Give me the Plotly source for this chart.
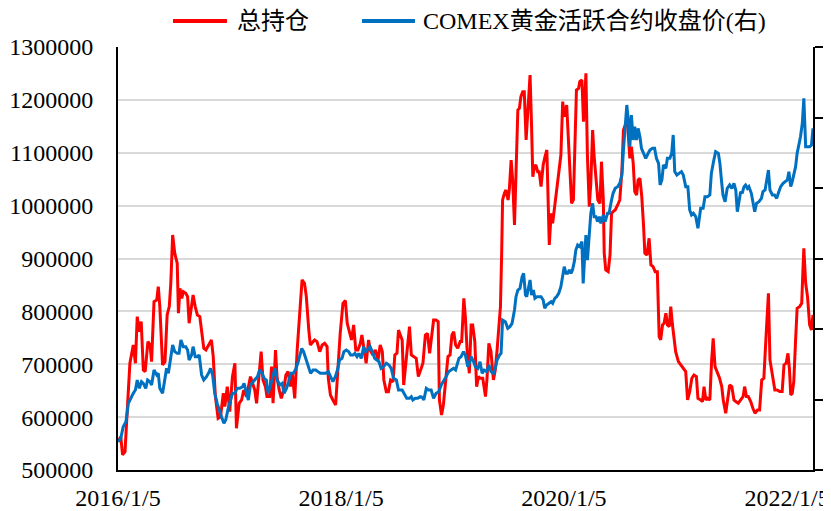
import pandas as pd
import plotly.graph_objects as go

start_date = "2016-01-05"

# 总持仓: day offsets from start_date and values
oi_day = [
    0, 9, 15, 23, 31, 39, 50, 57, 63, 70,
    76, 83, 89, 98, 105, 110, 118, 127, 132, 137,
    146, 154, 161, 168, 173, 179, 186, 194, 198, 203,
    209, 214, 222, 228, 233, 241, 246, 253, 260, 268,
    274, 281, 288, 296, 306, 312, 319, 328, 336, 345,
    350, 358, 366, 375, 383, 388, 397, 405, 412, 421,
    426, 434, 441, 448, 454, 461, 469, 475, 483, 488,
    497, 503, 508, 516, 521, 528, 535, 543, 550, 557,
    565, 571, 579, 587, 595, 603, 611, 617, 625, 630,
    644, 652, 661, 669, 677, 685, 689, 696, 704, 713,
    721, 728, 737, 745, 751, 759, 765, 772, 779, 786,
    794, 799, 806, 813, 821, 826, 835, 843, 852, 859,
    866, 871, 879, 886, 893, 901, 907, 914, 919, 931,
    936, 942, 950, 955, 961, 968, 977, 984, 990, 999,
    1007, 1014, 1021, 1027, 1034, 1042, 1049, 1053, 1060, 1066,
    1073, 1081, 1088, 1094, 1100, 1106, 1113, 1121, 1126, 1133,
    1138, 1144, 1151, 1157, 1162, 1169, 1175, 1181, 1187, 1195,
    1204, 1209, 1215, 1222, 1230, 1236, 1242, 1247, 1253, 1257,
    1260, 1266, 1271, 1278, 1282, 1288, 1293, 1299, 1304, 1310,
    1315, 1320, 1326, 1331, 1337, 1343, 1350, 1355, 1359, 1364,
    1369, 1375, 1380, 1386, 1393, 1399, 1405, 1413, 1419, 1424,
    1429, 1437, 1444, 1451, 1457, 1462, 1470, 1476, 1481, 1486,
    1492, 1497, 1502, 1509, 1513, 1520, 1525, 1529, 1533, 1538,
    1544, 1549, 1555, 1560, 1566, 1572, 1579, 1584, 1590, 1593,
    1598, 1606, 1612, 1617, 1622, 1629, 1637, 1644, 1651, 1656,
    1664, 1670, 1677, 1682, 1688, 1693, 1699, 1704, 1710, 1716,
    1722, 1726, 1733, 1740, 1746, 1753, 1760, 1767, 1773, 1778,
    1784, 1789, 1795, 1800, 1806, 1811, 1816, 1822, 1827, 1836,
    1844, 1851, 1860, 1866, 1873, 1880, 1887, 1895, 1900, 1909,
    1915, 1920, 1926, 1931, 1939, 1945, 1950, 1956, 1964, 1971,
    1978, 1983, 1991, 1996, 2004, 2011, 2018, 2024, 2032, 2040,
    2048, 2053, 2059, 2065, 2073, 2080, 2087, 2095, 2102, 2109,
    2116, 2124, 2131, 2136, 2144, 2152, 2160, 2168, 2176, 2182,
    2189, 2195, 2200, 2204, 2209, 2214, 2220, 2225, 2233, 2240,
    2244, 2247, 2253, 2259, 2266, 2272, 2277,
]
oi_value = [
    553700, 563100, 528500, 534800, 619900, 701800, 736500, 701800, 790100, 761700,
    780600, 689200, 686100, 742800, 736500, 705000, 818400, 821600, 846800, 809000,
    698600, 705000, 793200, 809000, 853100, 944500, 909800, 890900, 796400, 843600,
    824700, 837300, 834200, 827900, 777500, 815300, 831000, 809000, 793200, 790100,
    758500, 730200, 727000, 736500, 746000, 714400, 638800, 597800, 601000, 645100,
    619900, 657700, 610400, 676600, 701800, 578900, 626200, 632500, 651400, 638800,
    654500, 676600, 664000, 651400, 626200, 676600, 723900, 670300, 657700, 638800,
    638800, 695500, 626200, 727000, 676600, 651400, 635600, 651400, 679700, 686100,
    657700, 682900, 635600, 727000, 790100, 859400, 853100, 827900, 764800, 736500,
    746000, 742800, 723900, 736500, 739600, 733300, 673400, 641900, 632500, 623000,
    695500, 758500, 815300, 820300, 777500, 758500, 746000, 774300, 727000, 727000,
    739600, 755400, 730200, 701800, 746000, 727000, 717600, 727000, 708100, 736500,
    723900, 670300, 648200, 648200, 670300, 667100, 717600, 720800, 764800, 746000,
    660800, 695500, 746000, 771100, 717600, 714400, 711300, 676600, 686100, 701800,
    755400, 758500, 720800, 746000, 783700, 783700, 780600, 632500, 604100, 623000,
    664000, 714400, 717600, 755400, 761700, 736500, 730200, 742800, 742800, 824700,
    790100, 723900, 682900, 774300, 774300, 742800, 657700, 676600, 673400, 673400,
    638800, 673400, 739600, 723900, 670300, 689200, 727000, 758500, 809000, 909800,
    1010700, 1023300, 1029600, 1010700, 1029600, 1086300, 1048500, 963400, 1086300, 1180800,
    1184000, 1206000, 1215500, 1215500, 1124100, 1193400, 1247000, 1149300, 1054800, 1073700,
    1076800, 1064200, 1064200, 1035900, 1076800, 1092600, 1105200, 925600, 985500, 966500,
    988600, 1029600, 1061100, 1095700, 1196600, 1168200, 1190300, 1117800, 1051600, 1004300,
    1010700, 1098900, 1218600, 1221800, 1234400, 1237600, 1158800, 1196600, 1250200, 1092600,
    998100, 1042200, 1143000, 1092600, 1042200, 1010700, 1004300, 1083100, 1010700, 909800,
    878300, 875100, 906700, 985500, 988600, 991800, 1001200, 1010700, 1067400, 1143000,
    1155600, 1149300, 1089400, 1111500, 1080000, 1026400, 1020100, 1048500, 1051600, 1017000,
    960200, 909800, 906700, 938200, 887800, 884600, 875100, 875100, 752200, 746000,
    774300, 777500, 796400, 774300, 771100, 809000, 777500, 746000, 723900, 705000,
    698700, 692400, 686100, 632500, 648200, 673400, 679700, 676600, 635600, 632500,
    629400, 657700, 632500, 635700, 632500, 708100, 749100, 695500, 682900, 673400,
    657700, 632500, 607300, 632500, 660900, 657700, 632500, 629400, 626200, 632500,
    638800, 657700, 638800, 638800, 629400, 616800, 607300, 613600, 613600, 670300,
    673400, 761700, 834200, 708100, 682900, 651400, 651400, 648300, 648300, 698700,
    701900, 720700, 689200, 642000, 645100, 667200, 746000, 805800, 809000, 815300,
    878300, 919300, 853100, 827900, 774300, 764900, 793200,
]

# COMEX黄金活跃合约收盘价(右): day offsets from start_date and values
gold_day = [
    0, 9, 17, 26, 34, 41, 50, 57, 63, 70,
    77, 83, 91, 97, 105, 110, 118, 127, 132, 137,
    146, 154, 159, 165, 172, 179, 186, 194, 200, 206,
    214, 222, 228, 233, 241, 246, 253, 260, 266, 274,
    281, 290, 299, 303, 310, 317, 325, 331, 339, 347,
    353, 361, 369, 375, 383, 390, 399, 408, 413, 421,
    427, 434, 443, 450, 457, 464, 472, 479, 486, 492,
    499, 506, 514, 521, 530, 538, 544, 552, 559, 566,
    574, 581, 589, 595, 602, 608, 617, 625, 631, 639,
    648, 655, 663, 672, 680, 689, 696, 704, 712, 719,
    726, 734, 740, 748, 756, 762, 770, 776, 783, 789,
    797, 805, 811, 819, 826, 833, 841, 848, 855, 862,
    870, 879, 888, 895, 903, 912, 919, 931, 939, 946,
    955, 961, 966, 974, 982, 990, 997, 1002, 1010, 1017,
    1026, 1034, 1042, 1051, 1059, 1066, 1075, 1083, 1091, 1099,
    1106, 1111, 1117, 1124, 1132, 1138, 1146, 1151, 1157, 1165,
    1171, 1179, 1186, 1193, 1200, 1208, 1215, 1222, 1230, 1236,
    1242, 1250, 1255, 1260, 1269, 1277, 1284, 1291, 1299, 1304,
    1310, 1317, 1324, 1329, 1335, 1339, 1344, 1350, 1355, 1361,
    1366, 1373, 1380, 1386, 1393, 1398, 1404, 1411, 1419, 1424,
    1431, 1437, 1444, 1451, 1457, 1462, 1468, 1473, 1479, 1484,
    1489, 1495, 1500, 1506, 1513, 1520, 1524, 1530, 1533, 1538,
    1544, 1549, 1555, 1560, 1566, 1571, 1577, 1582, 1590, 1596,
    1604, 1609, 1617, 1622, 1629, 1637, 1644, 1651, 1656, 1662,
    1667, 1673, 1677, 1682, 1688, 1693, 1699, 1704, 1710, 1715,
    1722, 1729, 1737, 1743, 1751, 1758, 1764, 1771, 1776, 1782,
    1787, 1795, 1800, 1808, 1814, 1819, 1824, 1831, 1838, 1846,
    1852, 1860, 1867, 1873, 1879, 1885, 1893, 1900, 1909, 1917,
    1923, 1931, 1939, 1944, 1951, 1958, 1967, 1972, 1977, 1982,
    1989, 1996, 2004, 2011, 2018, 2024, 2029, 2035, 2040, 2045,
    2051, 2056, 2062, 2067, 2075, 2080, 2086, 2092, 2100, 2108,
    2113, 2120, 2125, 2131, 2136, 2144, 2151, 2158, 2165, 2171,
    2179, 2185, 2193, 2198, 2204, 2209, 2214, 2220, 2225, 2231,
    2236, 2242, 2247, 2253, 2259, 2266, 2272, 2277,
]
gold_value = [
    1080.3, 1089.8, 1122.9, 1137.1, 1189.1, 1203.3, 1217.5, 1226.9, 1255.3, 1231.7,
    1250.6, 1245.8, 1231.7, 1255.3, 1250.6, 1241.1, 1283.7, 1269.5, 1274.2, 1231.7,
    1217.5, 1260.0, 1288.4, 1274.2, 1321.5, 1354.6, 1335.7, 1330.9, 1330.9, 1368.8,
    1349.9, 1349.9, 1340.4, 1312.0, 1326.2, 1349.9, 1321.5, 1321.5, 1326.2, 1269.5,
    1255.3, 1264.8, 1279.0, 1288.4, 1269.5, 1217.5, 1189.1, 1170.2, 1151.3, 1132.3,
    1141.8, 1174.9, 1203.3, 1217.5, 1217.5, 1231.7, 1231.7, 1236.4, 1245.8, 1217.5,
    1198.5, 1241.1, 1250.6, 1255.3, 1264.8, 1283.7, 1274.2, 1260.0, 1255.3, 1217.5,
    1236.4, 1260.0, 1288.4, 1255.3, 1241.1, 1245.8, 1217.5, 1231.7, 1250.6, 1274.2,
    1274.2, 1283.7, 1302.6, 1326.2, 1345.1, 1335.7, 1312.0, 1288.4, 1274.2, 1283.7,
    1283.7, 1279.0, 1274.2, 1274.2, 1274.2, 1279.0, 1264.8, 1250.6, 1264.8, 1283.7,
    1312.0, 1316.8, 1335.7, 1340.4, 1335.7, 1326.2, 1326.2, 1330.9, 1321.5, 1330.9,
    1316.8, 1349.9, 1335.7, 1345.1, 1349.9, 1335.7, 1316.8, 1312.0, 1307.3, 1288.4,
    1293.1, 1302.6, 1297.8, 1288.4, 1260.0, 1255.3, 1226.9, 1226.9, 1212.7, 1203.3,
    1203.3, 1208.0, 1198.5, 1203.3, 1203.3, 1208.0, 1206.1, 1198.5, 1231.7, 1226.9,
    1226.9, 1203.3, 1217.5, 1222.2, 1241.1, 1250.6, 1264.8, 1279.0, 1283.7, 1288.4,
    1283.7, 1297.8, 1316.8, 1321.5, 1335.7, 1326.2, 1293.1, 1302.6, 1321.5, 1307.3,
    1293.1, 1288.4, 1307.3, 1274.2, 1283.7, 1279.0, 1297.8, 1279.0, 1274.2, 1288.4,
    1312.0, 1326.2, 1330.9, 1425.5, 1420.8, 1401.8, 1406.6, 1416.1, 1453.9, 1491.7,
    1510.6, 1515.4, 1548.5, 1557.9, 1496.4, 1491.7, 1515.4, 1539.0, 1496.4, 1510.6,
    1487.0, 1491.7, 1491.7, 1491.7, 1482.3, 1458.6, 1468.1, 1472.8, 1477.5, 1472.8,
    1487.0, 1491.7, 1501.2, 1520.1, 1557.9, 1576.8, 1557.9, 1557.9, 1567.4, 1557.9,
    1567.4, 1591.0, 1624.1, 1638.3, 1633.6, 1647.8, 1529.5, 1652.5, 1666.7, 1595.7,
    1671.4, 1728.1, 1756.5, 1718.7, 1718.7, 1704.5, 1718.7, 1699.8, 1723.4, 1704.5,
    1728.1, 1728.1, 1766.0, 1784.9, 1799.1, 1803.8, 1813.2, 1836.9, 1907.8, 1988.2,
    2035.5, 1983.5, 1917.3, 2007.1, 1936.2, 1974.0, 1936.2, 1969.3, 1945.6, 1912.5,
    1898.4, 1884.2, 1898.4, 1907.8, 1912.5, 1912.5, 1884.2, 1870.0, 1808.5, 1822.7,
    1865.3, 1855.8, 1884.2, 1884.2, 1898.4, 1950.4, 1846.4, 1836.9, 1841.6, 1846.4,
    1836.9, 1803.8, 1803.8, 1737.6, 1723.4, 1728.1, 1718.7, 1685.6, 1742.3, 1742.3,
    1775.4, 1775.4, 1780.1, 1841.6, 1874.7, 1903.1, 1898.3, 1870.0, 1822.7, 1780.1,
    1761.2, 1799.0, 1808.5, 1799.0, 1813.2, 1794.3, 1732.8, 1765.9, 1789.6, 1784.9,
    1803.8, 1808.5, 1799.0, 1803.8, 1784.9, 1761.2, 1732.8, 1756.5, 1761.2, 1770.7,
    1789.6, 1794.3, 1822.7, 1851.1, 1794.3, 1780.1, 1780.1, 1770.7, 1789.6, 1803.8,
    1813.2, 1818.0, 1822.7, 1846.3, 1803.8, 1818.0, 1836.9, 1860.5, 1898.3, 1922.0,
    1945.6, 1983.5, 2054.4, 1917.3, 1917.3, 1917.3, 1922.0, 1969.3,
]

tick_dates = ["2016-01-05", "2018-01-05", "2020-01-05", "2022-01-05"]
tick_labels = ["2016/1/5", "2018/1/5", "2020/1/5", "2022/1/5"]
series_names = ["总持仓", "COMEX黄金活跃合约收盘价(右)"]

assert len(oi_day) == len(oi_value)
assert len(gold_day) == len(gold_value)

start = pd.Timestamp(start_date)
oi_dates = [start + pd.Timedelta(days=d) for d in oi_day]
gold_dates = [start + pd.Timedelta(days=d) for d in gold_day]
end = start + pd.Timedelta(days=max(max(oi_day), max(gold_day)))

RED = "#FF0000"
BLUE = "#0070C0"
FONT = "'Liberation Serif', 'Times New Roman', 'Noto Sans CJK SC', serif"

fig = go.Figure()
fig.add_trace(go.Scatter(x=oi_dates, y=oi_value, name=series_names[0], mode="lines",
                         line=dict(color=RED, width=3), yaxis="y"))
fig.add_trace(go.Scatter(x=gold_dates, y=gold_value, name=series_names[1], mode="lines",
                         line=dict(color=BLUE, width=3), yaxis="y2"))

# the page body has an 8px default margin, so the figure is sized to fit inside it
fig.update_layout(
    width=823, height=503,
    margin=dict(l=110, r=18, t=39, b=41, autoexpand=False),
    plot_bgcolor="white", paper_bgcolor="white",
    font=dict(family=FONT, size=24, color="black"),
    showlegend=False,
    xaxis=dict(
        type="date", range=[start, end],
        tickmode="array", tickvals=tick_dates, ticktext=tick_labels,
        showgrid=False, zeroline=False, showline=True, linecolor="black", linewidth=2,
        ticks="", ticklabelstandoff=5, automargin=False,
    ),
    yaxis=dict(
        range=[500000, 1300000], dtick=100000, tick0=500000, tickformat="d",
        showgrid=True, gridcolor="#D9D9D9", gridwidth=2, zeroline=False,
        showline=True, linecolor="black", linewidth=2, ticks="",
        ticklabelstandoff=18, automargin=False,
    ),
    yaxis2=dict(
        range=[1000, 2200], dtick=200, tick0=1000, overlaying="y", side="right",
        showgrid=False, zeroline=False, showline=True, linecolor="black", linewidth=2,
        ticks="outside", ticklen=8, tickwidth=2, tickcolor="black",
        showticklabels=False, automargin=False,
    ),
)

# legend drawn at top (line samples + real text labels)
legend_y = 1.0615
fig.add_shape(type="line", xref="paper", yref="paper", x0=0.0791, x1=0.1568,
              y0=legend_y, y1=legend_y, line=dict(color=RED, width=4))
fig.add_annotation(xref="paper", yref="paper", x=0.1683, y=legend_y, text=series_names[0],
                   showarrow=False, xanchor="left", yanchor="middle", font=dict(size=24))
fig.add_shape(type="line", xref="paper", yref="paper", x0=0.3511, x1=0.4273,
              y0=legend_y, y1=legend_y, line=dict(color=BLUE, width=4))
fig.add_annotation(xref="paper", yref="paper", x=0.436, y=legend_y, text=series_names[1],
                   showarrow=False, xanchor="left", yanchor="middle", font=dict(size=24))

fig.write_html("out.html")
